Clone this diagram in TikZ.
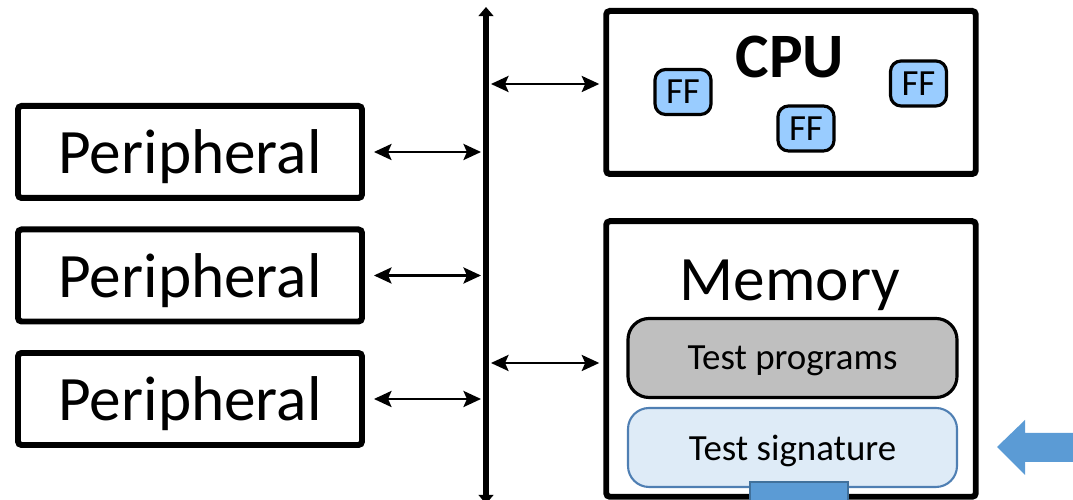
\documentclass[tikz,border=0pt]{standalone}
\usepackage{fontspec}
\setmainfont{Carlito}
\usetikzlibrary{arrows.meta}

\definecolor{ffblue}{HTML}{99CCFF}
\definecolor{proggray}{HTML}{BFBFBF}
\definecolor{siglight}{HTML}{DEEBF7}
\definecolor{sigedge}{HTML}{4F7FB3}
\definecolor{accent}{HTML}{5B9BD5}
\definecolor{accentedge}{HTML}{41719C}

\begin{document}
\begin{tikzpicture}[
  block/.style={draw, line width=1.7pt, inner sep=0pt, rounded corners=1pt},
  periph/.style={block, minimum width=3.44cm, minimum height=0.92cm, text depth=0pt, font=\fontsize{18}{20}\selectfont},
  link/.style={{Stealth[length=5pt,width=4.6pt,inset=1pt]}-{Stealth[length=5pt,width=4.6pt,inset=1pt]}, line width=0.6pt},
  ffbox/.style={draw, line width=0.9pt, fill=ffblue, rounded corners=3pt, minimum width=0.56cm, minimum height=0.45cm, inner sep=0pt, font=\fontsize{10.5}{12}\selectfont},
  membox/.style={rounded corners=6pt, minimum width=3.29cm, minimum height=0.79cm, inner sep=0pt, text depth=0pt, font=\fontsize{10.5}{12}\selectfont}
]
\useasboundingbox (0,0) rectangle (10.73,5);

% --- System bus ---
\coordinate (bustop) at (4.86,4.93);
\coordinate (busbot) at (4.86,-0.04);
\draw[line width=1.7pt, {Triangle[length=2.6pt,width=4.2pt]}-{Triangle[length=2.6pt,width=4.2pt]}] (busbot) -- (bustop);

% --- Peripherals ---
\foreach \i/\y in {1/3.48, 2/2.245, 3/1.01} {
    \node[periph] (per\i) at (1.90,\y) {Peripheral};
    \draw[link] ([xshift=0.09cm]per\i.east) -- ([xshift=-0.05cm]per\i.east -| bustop);
}

% --- CPU ---
\node[block, minimum width=3.695cm, minimum height=1.63cm] (cpu) at (7.91,4.075) {};
\node[font=\fontsize{18}{20}\selectfont\bfseries] (cpulabel) at (7.90,4.43) {CPU};
\foreach \n/\x/\y in {a/6.83/4.08, b/9.185/4.165, c/8.06/3.715} {
    \node[ffbox] (ff\n) at (\x,\y) {FF};
}
\draw[link] ([xshift=0.05cm]bustop |- 0,4.16) -- ([xshift=-0.04cm]cpu.west |- 0,4.16);

% --- Memory ---
\node[block, minimum width=3.695cm, minimum height=2.755cm] (mem) at (7.91,1.41) {};
\node[font=\fontsize{18}{20}\selectfont] (memlabel) at (7.90,2.15) {Memory};
\node[membox, draw, line width=0.9pt, fill=proggray] (progs) at (7.925,1.42) {Test programs};
\node[membox, draw=sigedge, line width=0.6pt, fill=siglight] (sig) at (7.925,0.525) {Test signature};
\node[draw=accentedge, line width=0.6pt, fill=accent, minimum width=0.98cm, minimum height=0.26cm, inner sep=0pt] (sigport) at (7.99,0.05) {};
\draw[link] ([xshift=0.05cm]bustop |- 0,1.37) -- ([xshift=-0.04cm]mem.west |- 0,1.37);

% Write arrow into the signature
\fill[accent] (9.97,0.53) -- (10.25,0.80) -- (10.25,0.67) -- (10.80,0.67)
    -- (10.80,0.38) -- (10.25,0.38) -- (10.25,0.25) -- cycle;

\end{tikzpicture}
\end{document}
